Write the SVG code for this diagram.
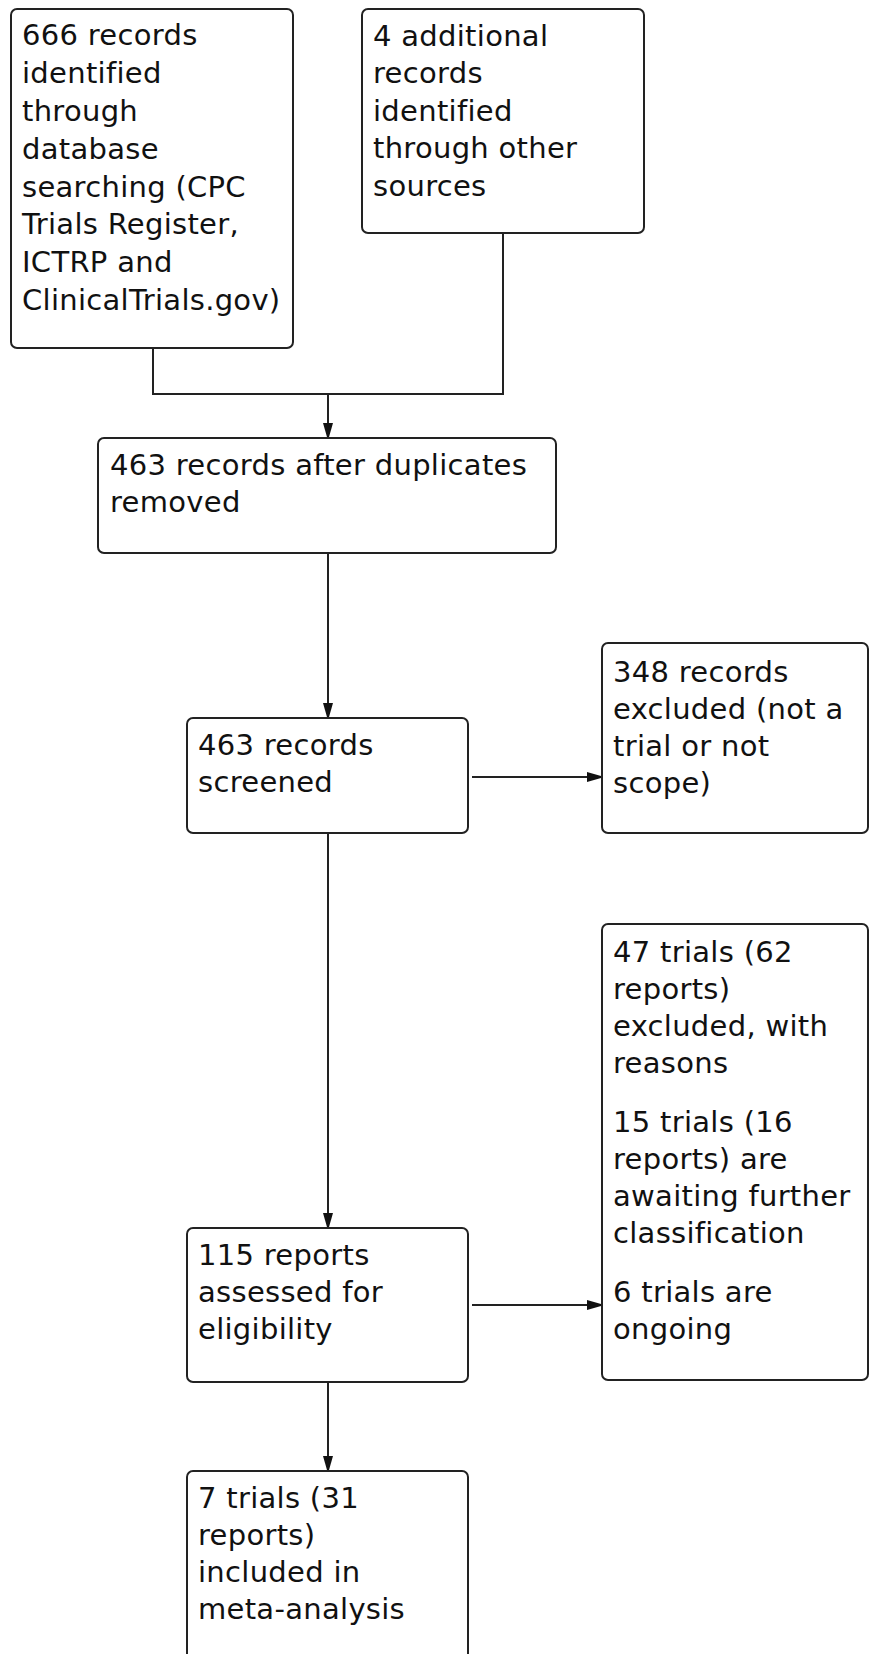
<svg xmlns="http://www.w3.org/2000/svg" width="870" height="1654" viewBox="0 0 870 1654">
<defs>
<style>
.box{fill:#ffffff;stroke:#222222;stroke-width:2}
.lbl{font-family:"DejaVu Sans",Verdana,sans-serif;font-size:29px;letter-spacing:0.3px;fill:#111111}
.conn{fill:none;stroke:#222222;stroke-width:2}
</style>
<marker id="arr" markerUnits="userSpaceOnUse" markerWidth="14" markerHeight="10" refX="14" refY="5" orient="auto">
<path d="M0,0 L14,4 L14,6 L0,10 z" fill="#111111"/>
</marker>
</defs>
<rect width="870" height="1654" fill="#ffffff"/>
<g id="connectors">
<path class="conn" d="M153,348 V394 H503 V233"/>
<path class="conn" d="M328,394 V437" marker-end="url(#arr)"/>
<path class="conn" d="M328,553 V717" marker-end="url(#arr)"/>
<path class="conn" d="M472,777 H601" marker-end="url(#arr)"/>
<path class="conn" d="M328,833 V1227" marker-end="url(#arr)"/>
<path class="conn" d="M472,1305 H601" marker-end="url(#arr)"/>
<path class="conn" d="M328,1382 V1470" marker-end="url(#arr)"/>
</g>
<g id="n1">
<rect class="box" x="11" y="9" width="282" height="339" rx="6"/>
<text class="lbl"><tspan x="22" y="45">666 records</tspan><tspan x="22" y="83">identified</tspan><tspan x="22" y="121">through</tspan><tspan x="22" y="159">database</tspan><tspan x="22" y="197">searching (CPC</tspan><tspan x="22" y="234">Trials Register,</tspan><tspan x="22" y="272">ICTRP and</tspan><tspan x="22" y="310">ClinicalTrials.gov)</tspan></text>
</g>
<g id="n2">
<rect class="box" x="362" y="9" width="282" height="224" rx="6"/>
<text class="lbl"><tspan x="373" y="46">4 additional</tspan><tspan x="373" y="83">records</tspan><tspan x="373" y="121">identified</tspan><tspan x="373" y="158">through other</tspan><tspan x="373" y="196">sources</tspan></text>
</g>
<g id="n3">
<rect class="box" x="98" y="438" width="458" height="115" rx="6"/>
<text class="lbl"><tspan x="110" y="475">463 records after duplicates</tspan><tspan x="110" y="512">removed</tspan></text>
</g>
<g id="n4">
<rect class="box" x="187" y="718" width="281" height="115" rx="6"/>
<text class="lbl"><tspan x="198" y="755">463 records</tspan><tspan x="198" y="792">screened</tspan></text>
</g>
<g id="n5">
<rect class="box" x="602" y="643" width="266" height="190" rx="6"/>
<text class="lbl"><tspan x="613" y="682">348 records</tspan><tspan x="613" y="719">excluded (not a</tspan><tspan x="613" y="756">trial or not</tspan><tspan x="613" y="793">scope)</tspan></text>
</g>
<g id="n6">
<rect class="box" x="602" y="924" width="266" height="456" rx="6"/>
<text class="lbl"><tspan x="613" y="962">47 trials (62</tspan><tspan x="613" y="999">reports)</tspan><tspan x="613" y="1036">excluded, with</tspan><tspan x="613" y="1073">reasons</tspan><tspan x="613" y="1132">15 trials (16</tspan><tspan x="613" y="1169">reports) are</tspan><tspan x="613" y="1206">awaiting further</tspan><tspan x="613" y="1243">classification</tspan><tspan x="613" y="1302">6 trials are</tspan><tspan x="613" y="1339">ongoing</tspan></text>
</g>
<g id="n7">
<rect class="box" x="187" y="1228" width="281" height="154" rx="6"/>
<text class="lbl"><tspan x="198" y="1265">115 reports</tspan><tspan x="198" y="1302">assessed for</tspan><tspan x="198" y="1339">eligibility</tspan></text>
</g>
<g id="n8">
<rect class="box" x="187" y="1471" width="281" height="240" rx="6"/>
<text class="lbl"><tspan x="198" y="1508">7 trials (31</tspan><tspan x="198" y="1545">reports)</tspan><tspan x="198" y="1582">included in</tspan><tspan x="198" y="1619">meta-analysis</tspan></text>
</g>
</svg>
